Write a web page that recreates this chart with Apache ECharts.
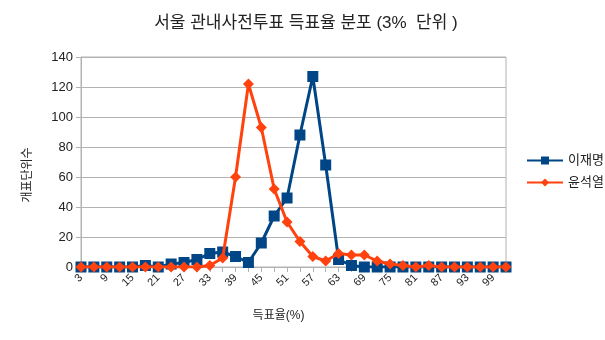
<!DOCTYPE html>
<html>
<head>
<meta charset="utf-8">
<script src="https://cdn.jsdelivr.net/npm/echarts@6/dist/echarts.min.js"></script>
<style>
  html, body { margin: 0; padding: 0; background: #fff; }
  #chart { width: 605px; height: 340px; }
</style>
</head>
<body>
<div id="chart"></div>
<script>
// Vote-share bins (percent, 3% wide)
const bins = [3, 6, 9, 12, 15, 18, 21, 24, 27, 30, 33, 36, 39, 42, 45, 48, 51, 54, 57, 60,
              63, 66, 69, 72, 75, 78, 81, 84, 87, 90, 93, 96, 99, 102];

// Number of counting units falling in each bin
const leeJaemyung = [0, 0, 0, 0, 0, 1, 0, 2, 3, 5, 9, 10, 7, 3, 16, 34, 46, 88, 127, 68,
                     5, 1, 0, 0, 0, 0, 0, 0, 0, 0, 0, 0, 0, 0];
const yoonSeokyoul = [0, 0, 0, 0, 0, 0, 0, 0, 0, 0, 1, 6, 60, 122, 93, 52, 30, 17, 7, 4,
                      9, 8, 8, 4, 2, 1, 0, 1, 0, 0, 0, 0, 0, 0];

const yTicks = { min: 0, max: 140, interval: 20 };

const FONT = '"Liberation Sans", "Noto Sans CJK KR", sans-serif';
const gridColor = '#b3b3b3';

const chart = echarts.init(document.getElementById('chart'), null, { renderer: 'canvas' });

chart.setOption({
  animation: false,
  backgroundColor: '#ffffff',
  textStyle: { fontFamily: FONT },
  title: {
    text: '서울 관내사전투표 득표율 분포 (3%  단위 )',
    left: 301,
    textAlign: 'center',
    top: 10,
    textStyle: { fontFamily: FONT, fontSize: 17, fontWeight: 'normal', color: '#222' }
  },
  legend: {
    orient: 'vertical',
    left: 521,
    top: 149,
    itemWidth: 36,
    itemHeight: 10,
    itemGap: 9,
    textStyle: { fontFamily: FONT, fontSize: 13, color: '#222' },
    data: ['이재명', '윤석열']
  },
  grid: {
    left: 81, right: 99, top: 57, bottom: 73,
    show: true,
    borderColor: gridColor,
    borderWidth: 1
  },
  xAxis: {
    type: 'category',
    data: bins,
    boundaryGap: false,
    name: '득표율(%)',
    nameLocation: 'middle',
    nameGap: 43,
    nameTextStyle: { fontFamily: FONT, fontSize: 12, color: '#222', padding: [0, 30, 0, 0] },
    axisLine: { lineStyle: { color: gridColor } },
    axisTick: { show: true, interval: 0, length: 5, lineStyle: { color: gridColor } },
    axisLabel: { interval: 1, rotate: 45, fontSize: 11, color: '#222', margin: 9 }
  },
  yAxis: {
    type: 'value',
    min: yTicks.min,
    max: yTicks.max,
    interval: yTicks.interval,
    name: '개표단위수',
    nameLocation: 'middle',
    nameGap: 47,
    nameTextStyle: { fontFamily: FONT, fontSize: 12, color: '#222', padding: [0, 0, 0, -26] },
    axisLine: { show: true, lineStyle: { color: gridColor } },
    axisTick: { show: true, length: 5, lineStyle: { color: gridColor } },
    axisLabel: { fontSize: 13, color: '#222', margin: 8 },
    splitLine: { lineStyle: { color: gridColor } }
  },
  series: [
    {
      name: '이재명',
      type: 'line',
      data: leeJaemyung,
      color: '#004586',
      symbol: 'rect',
      symbolSize: 11,
      showAllSymbol: true,
      lineStyle: { width: 3 },
      z: 2
    },
    {
      name: '윤석열',
      type: 'line',
      data: yoonSeokyoul,
      color: '#ff420e',
      symbol: 'diamond',
      symbolSize: 11,
      showAllSymbol: true,
      lineStyle: { width: 3 },
      z: 3
    }
  ]
});
</script>
</body>
</html>
